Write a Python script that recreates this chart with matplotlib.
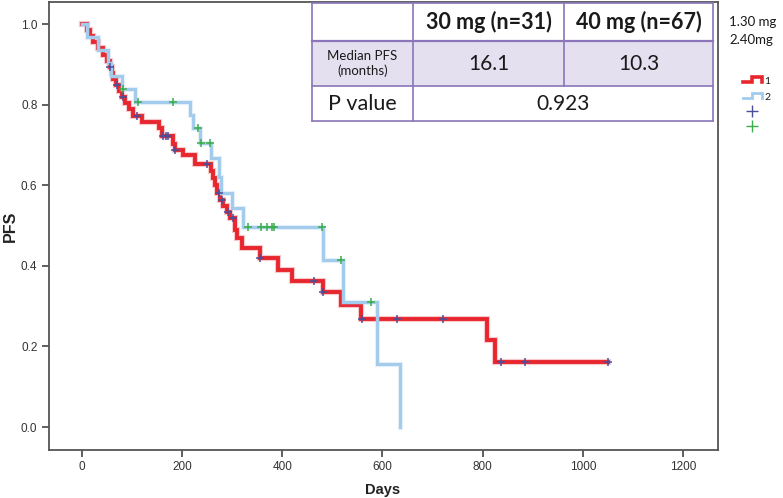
import numpy as np
import matplotlib
matplotlib.use("Agg")
import matplotlib.pyplot as plt
from matplotlib.lines import Line2D
from matplotlib.patches import Rectangle

# ---------------- data ----------------
red_times = [0, 11, 17, 22, 33, 42, 50, 56, 60, 63, 68, 74, 80, 87, 94, 103, 120, 155, 160,
             182, 186, 203, 226, 259, 262, 266, 270, 276, 283, 290, 297, 305, 310, 320,
             355, 392, 419, 481, 517, 557, 808, 824]
red_surv = [1.0, 0.985, 0.970, 0.955, 0.940, 0.925, 0.910, 0.895, 0.880, 0.865, 0.850, 0.835,
            0.820, 0.805, 0.790, 0.772, 0.757, 0.742, 0.722, 0.703, 0.688, 0.675, 0.652,
            0.635, 0.618, 0.600, 0.582, 0.565, 0.550, 0.535, 0.518, 0.490, 0.470, 0.444,
            0.420, 0.390, 0.363, 0.335, 0.302, 0.268, 0.216, 0.161]
red_end = 1049
red_censor = [57, 71, 83, 111, 163, 168, 172, 186, 250, 274, 281, 292, 301, 355, 463, 481,
              560, 628, 720, 837, 885, 1049]

blue_times = [0, 10, 33, 53, 58, 80, 107, 217, 222, 236, 259, 274, 279, 299, 322, 482, 521,
              589, 634]
blue_surv = [1.0, 0.968, 0.935, 0.903, 0.871, 0.839, 0.806, 0.774, 0.742, 0.706, 0.667,
             0.622, 0.580, 0.543, 0.497, 0.415, 0.311, 0.156, 0.0]
blue_end = 634
blue_censor = [82, 113, 183, 233, 238, 257, 332, 357, 370, 379, 384, 480, 518, 578]

x_ticks = [0, 200, 400, 600, 800, 1000, 1200]
y_ticks = [0.0, 0.2, 0.4, 0.6, 0.8, 1.0]

table_header = ["", "30 mg (n=31)", "40 mg (n=67)"]
median_label = "Median PFS\n(months)"
median_values = ["16.1", "10.3"]
p_label = "P value"
p_value = "0.923"
legend_titles = ["1.30 mg", "2.40mg"]
legend_labels = ["1", "2"]

RED = "#e8262e"
BLUE = "#a3cbec"
NAVY = "#4b4f9a"
GREEN = "#3aae4a"
PURPLE = "#8a76b8"

W, H = 783, 498
fig = plt.figure(figsize=(W / 100, H / 100), dpi=100)


def fx(px):
    return px / W


def fy(py):
    return 1 - py / H


ax = fig.add_axes([fx(48.5), fy(450), fx(717.5) - fx(48.5), fy(2) - fy(450)])
ax.set_xlim(-65.8, 1267.8)
ax.set_ylim(-0.057, 1.0554)


def km(times, surv, end, censor, color, lw, ccolor, z):
    t = list(times) + [end]
    s = list(surv) + [surv[-1]]
    ax.step(t, s, where="post", color=color, lw=lw + 1.6, alpha=0.25, zorder=z,
            solid_joinstyle="miter")
    ax.step(t, s, where="post", color=color, lw=lw, zorder=z + 0.1, solid_joinstyle="miter")
    idx = np.searchsorted(np.array(times), np.array(censor), side="right") - 1
    cy = np.array(surv)[idx]
    ax.plot(censor, cy, linestyle="none", marker="+", ms=6, mew=1.1, color=ccolor, zorder=5)


km(red_times, red_surv, red_end, red_censor, RED, 2.8, NAVY, 2)
km(blue_times, blue_surv, blue_end, blue_censor, BLUE, 2.2, GREEN, 3)

ax.set_xticks(x_ticks)
ax.set_yticks(y_ticks)
ax.set_yticklabels([f"{v:.1f}" for v in y_ticks])
tick_font = ["Liberation Sans Narrow", "Liberation Sans", "DejaVu Sans"]
for lab in ax.get_xticklabels() + ax.get_yticklabels():
    lab.set_family(tick_font)
    lab.set_fontsize(8.5)
    lab.set_color("#333333")
ax.tick_params(direction="out", length=5, width=1.2, color="#444444", pad=3)
for sp in ax.spines.values():
    sp.set_color("#555555")
    sp.set_linewidth(1.3)
ax.set_xlabel("Days", fontsize=10.5, fontweight="bold", family=tick_font, labelpad=7,
              color="#222222")
ax.set_ylabel("PFS", fontsize=11.5, fontweight="bold", family=tick_font, labelpad=2,
              color="#222222")

# ---------------- table ----------------
cols = [312, 413, 564, 713]
rows = [3, 41, 86, 121]
tfont = ["Lato", "DejaVu Sans"]


def rect(x0, y0, x1, y1, fc):
    fig.patches.append(Rectangle((fx(x0), fy(y1)), fx(x1) - fx(x0), fy(y0) - fy(y1),
                                 transform=fig.transFigure, facecolor=fc, edgecolor="none",
                                 zorder=10))


rect(cols[0], rows[0], cols[3], rows[1], "white")
rect(cols[0], rows[1], cols[3], rows[2], "#e5e0ef")
rect(cols[0], rows[2], cols[3], rows[3], "white")


def hline(y, x0, x1, lw=1.2):
    fig.add_artist(Line2D([fx(x0), fx(x1)], [fy(y), fy(y)], transform=fig.transFigure,
                          color=PURPLE, lw=lw, zorder=11))


def vline(x, y0, y1, lw=1.2):
    fig.add_artist(Line2D([fx(x), fx(x)], [fy(y0), fy(y1)], transform=fig.transFigure,
                          color=PURPLE, lw=lw, zorder=11))


for r in rows:
    hline(r, cols[0], cols[3], lw=1.6 if r == rows[1] else 1.2)
vline(cols[0], rows[0], rows[3])
vline(cols[1], rows[0], rows[3])
vline(cols[2], rows[0], rows[2])
vline(cols[3], rows[0], rows[3])


def ctext(x, y, s, size, weight="normal"):
    fig.text(fx(x), fy(y), s, ha="center", va="center", fontsize=size, fontweight=weight,
             family=tfont, color="#1a1a1a", zorder=12, linespacing=1.15)


ym = [(rows[i] + rows[i + 1]) / 2 for i in range(3)]
ctext((cols[1] + cols[2]) / 2, ym[0], table_header[1], 15.5, "bold")
ctext((cols[2] + cols[3]) / 2, ym[0], table_header[2], 15.5, "bold")
ctext((cols[0] + cols[1]) / 2, ym[1], median_label, 9.5)
ctext((cols[1] + cols[2]) / 2, ym[1], median_values[0], 15)
ctext((cols[2] + cols[3]) / 2, ym[1], median_values[1], 15)
ctext((cols[0] + cols[1]) / 2, ym[2], p_label, 15.5)
ctext((cols[1] + cols[3]) / 2, ym[2], p_value, 15)

# ---------------- legend outside ----------------
fig.text(fx(729), fy(22), legend_titles[0], ha="left", va="center", fontsize=9.5,
         family=tfont, color="#1a1a1a")
fig.text(fx(729), fy(40), legend_titles[1], ha="left", va="center", fontsize=9.5,
         family=tfont, color="#1a1a1a")


def step_icon(yc, color, lw):
    xs = [743, 752, 752, 762, 762]
    ys = [yc + 2, yc + 2, yc - 3, yc - 3, yc + 2]
    fig.add_artist(Line2D([fx(v) for v in xs], [fy(v) for v in ys], transform=fig.transFigure,
                          color=color, lw=lw, solid_joinstyle="miter"))


step_icon(80, RED, 2.6)
fig.text(fx(764), fy(81), legend_labels[0], ha="left", va="center", fontsize=7.5,
         family=tfont, color="#1a1a1a")
step_icon(96, BLUE, 2.0)
fig.text(fx(764), fy(97), legend_labels[1], ha="left", va="center", fontsize=7.5,
         family=tfont, color="#1a1a1a")
fig.add_artist(Line2D([fx(752)], [fy(111)], transform=fig.transFigure, marker="+", ms=9,
                      mew=1.0, color=NAVY, linestyle="none"))
fig.add_artist(Line2D([fx(752)], [fy(126)], transform=fig.transFigure, marker="+", ms=9,
                      mew=1.0, color=GREEN, linestyle="none"))

fig.savefig("out.png", dpi=100)
